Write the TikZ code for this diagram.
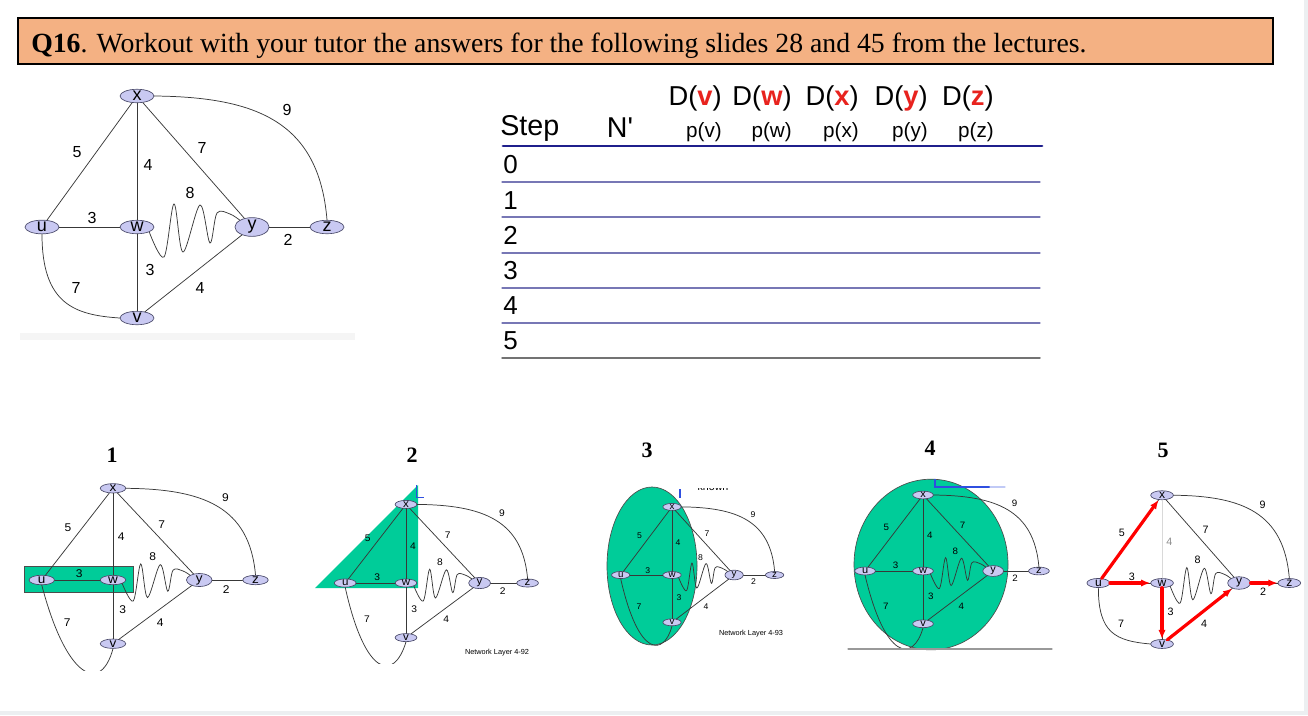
\documentclass[tikz,border=0pt]{standalone}
\usepackage{fontspec}
\setmainfont{Liberation Serif}
\setsansfont{Liberation Sans}
\usetikzlibrary{arrows.meta,shapes.geometric}
\definecolor{titlefill}{HTML}{F4B183}
\definecolor{routerfill}{HTML}{C9C9F2}
\definecolor{routerline}{HTML}{4A4A6A}
\definecolor{seen}{HTML}{00CC99}
\definecolor{dred}{HTML}{E8231E}
\definecolor{rulenavy}{HTML}{1F1F8C}
\definecolor{rulethin}{HTML}{7777B5}
\definecolor{pagegray}{HTML}{ECEFF1}
\definecolor{markblue}{HTML}{2F4FE0}
\tikzset{
  router/.style={ellipse, draw=routerline, fill=routerfill, line width=0.5pt,
    minimum width=25.5pt, minimum height=9.5pt, inner sep=0pt,
    font=\sffamily\fontsize{13.5}{13.5}\selectfont, transform shape},
  wt/.style={font=\sffamily\fontsize{12}{12}\selectfont, inner sep=0pt, transform shape},
  link/.style={draw=black!78, line width=0.55pt},
  xwlink/.style={link},
  xwwt/.style={wt},
  best/.style={draw=red, line width=2.4pt, -{Latex[length=7pt,width=5.5pt]}},
  seenarea/.style={fill=seen, draw=black!70, line width=0.5pt},
  stepno/.style={font=\bfseries\fontsize{16.5}{16.5}\selectfont, inner sep=0pt},
  hd/.style={font=\sffamily\fontsize{21.5}{22}\selectfont, inner sep=0pt},
  dhd/.style={font=\sffamily\fontsize{20.5}{21}\selectfont, inner sep=0pt, anchor=east},
  phd/.style={font=\sffamily\fontsize{15.5}{16}\selectfont, inner sep=0pt, anchor=east},
  rowno/.style={font=\sffamily\fontsize{19.5}{20}\selectfont, inner sep=0pt, anchor=west},
  rowline/.style={draw=rulethin, line width=0.8pt},
  slide/.style={font=\sffamily\fontsize{5.5}{6}\selectfont, inner sep=0pt},
  net/.pic={
    \node[router] (-x) at (0,-131) {x};
    \node[router] (-u) at (-95,0) {u};
    \node[router] (-w) at (0,0) {w};
    \node[router] (-y) at (115,0) {y};
    \node[router] (-z) at (190,0) {z};
    \node[router] (-v) at (0,91) {v};
    \draw[link] (-x) -- (-u);
    \draw[xwlink] (-x) -- (-w);
    \draw[link] (-x) -- (-y);
    \draw[link] (-x.east) .. controls (120,-130) and (182,-105) .. (-z.north);
    \draw[link] (-u) -- (-w);
    \draw[link] plot[smooth,tension=0.55] coordinates {(-w.south east) (27,30) (37,-23) (46,25) (63,-22) (73,16) (80,-14) (93,-13) (-y.north west)};
    \draw[link] (-y) -- (-z);
    \draw[link] (-w) -- (-v);
    \draw[link] (-v) -- (-y);
    \node[wt] (-c5) at (-60,-75) {5};
    \node[xwwt] (-c4) at (11,-62) {4};
    \node[wt] (-c7) at (65,-79) {7};
    \node[wt] (-c9) at (150,-117) {9};
    \node[wt] (-c3) at (-45,-9) {3};
    \node[wt] (-c8) at (53,-34) {8};
    \node[wt] (-c2) at (151,13) {2};
    \node[wt] (-d3) at (13,43) {3};
    \node[wt] (-d4) at (63,61) {4};
    \node[wt] (-d7) at (-61,61) {7};
  }
}

\begin{document}
\begin{tikzpicture}[x=0.75pt,y=-0.75pt,line cap=round]
  \useasboundingbox (0,0) rectangle (1308,715);
  \fill[pagegray] (0,0) rectangle (1308,715);
  \fill[white] (0,0) rectangle (1304,711);
  % question banner
  \draw[fill=titlefill, draw=black, line width=0.9pt] (18,18) rectangle (1273,64);
  \node[anchor=base west, inner sep=0pt, font=\fontsize{20.8}{21}\selectfont] (q16) at (31,52)
    {\textbf{Q16}. Workout with your tutor the answers for the following slides 28 and 45 from the lectures.};
  % main network
  \fill[black!4] (20,333) rectangle (355,340);
  \pic (m) at (137,227) {net};
  \draw[link] (m-u.south) .. controls +(0,70) and +(-45,-3) .. (m-v.west);
  % table
  \node[hd, anchor=west] (step) at (500,128) {Step};
  \node[hd] (nprime) at (620,128) {N\textquotesingle};
  \foreach \n/\c in {v/722,w/792,x/859,y/928,z/994}{
    \node[dhd] (d\n) at (\c,98) {D(\textcolor{dred}{\textbf{\n}})};
    \node[phd] (p\n) at (\c,132) {p(\n)};
  }
  \draw[draw=rulenavy, line width=2.2pt] (503,146) -- (1042,146);
  \foreach \r in {0,...,5}{
    \node[rowno] (row\r) at (503,165+35.2*\r) {\r};
  }
  \foreach \yy in {182,217,253,288,323}{
    \draw[rowline] (502,\yy) -- (1040,\yy);
  }
  \draw[draw=black!55, line width=1.1pt] (502,358) -- (1040,358);
  % step labels
  \node[stepno] (s1) at (112,455) {1};
  \node[stepno] (s2) at (412,455) {2};
  \node[stepno] (s3) at (647,450) {3};
  \node[stepno] (s4) at (930,448) {4};
  \node[stepno] (s5) at (1163,450) {5};
  % shaded sets N'
  \draw[seenarea] (24,566) rectangle (133,592);
  \fill[seen] (315,588) -- (418,485) -- (418,588) -- cycle;
  \draw[seenarea] (652,566) ellipse [x radius=33.75pt, y radius=59.25pt];
  \draw[seenarea] (931,564.5) ellipse [x radius=57.75pt, y radius=64pt];
  % step 1
  \pic[xscale=0.75,yscale=0.70] (g1) at (113,580) {net};
  \begin{scope}
    \clip (0,0) rectangle (1308,670);
    \draw[link] (g1-u.south) .. controls +(25,95) and +(-12,45) .. (g1-v.south);
  \end{scope}
  % step 2
  \pic[xscale=0.64,yscale=0.60] (g2) at (406,583) {net};
  \begin{scope}
    \clip (0,0) rectangle (1308,663);
    \draw[link] (g2-u.south) .. controls +(20,90) and +(-12,40) .. (g2-v.south);
  \end{scope}
  \draw[markblue, line width=0.9pt, line cap=butt] (416.7,485) -- (416.7,497.3) -- (424,497.3);
  \node[slide] (nl92) at (497,653) {Network Layer 4-92};
  % step 3
  \pic[xscale=0.54,yscale=0.52] (g3) at (672,575) {net};
  \begin{scope}
    \clip (0,0) rectangle (1308,645);
    \draw[link] (g3-u.south) .. controls +(18,80) and +(-8,30) .. (g3-v.south);
  \end{scope}
  \draw[markblue, line width=0.9pt, line cap=butt] (680,489) -- (680,498);
  \begin{scope}
    \clip (690,488) rectangle (760,495);
    \node[slide, font=\sffamily\fontsize{8}{8}\selectfont] (known) at (713,487) {known};
  \end{scope}
  \node[slide] (nl93) at (751,634) {Network Layer 4-93};
  % step 4
  \pic[xscale=0.61,yscale=0.58] (g4) at (923,571) {net};
  \begin{scope}
    \clip (0,0) rectangle (1308,649);
    \draw[link] (g4-u.south) .. controls +(20,85) and +(-10,35) .. (g4-v.south);
  \end{scope}
  \draw[markblue, line width=0.9pt, line cap=butt] (935,479) -- (935,487) -- (990,487);
  \draw[markblue!30, line width=0.9pt] (990,487) -- (1005,487);
  \draw[black!40, line width=0.8pt] (848,649) -- (1052,649);
  % step 5
  \pic[xscale=0.67,yscale=0.67,
      xwlink/.style={draw=black!15, line width=0.55pt}, xwwt/.style={wt, text=black!45}] (g5) at (1162,583) {net};
  \draw[link] (g5-u.south) .. controls +(0,45) and +(-35,-3) .. (g5-v.west);
  \draw[best] (g5-u) -- (g5-x);
  \draw[best] (g5-u) -- (g5-w);
  \draw[best] (g5-w) -- (g5-v);
  \draw[best] (g5-v) -- (g5-y);
  \draw[best] (g5-y) -- (g5-z);
\end{tikzpicture}
\end{document}
